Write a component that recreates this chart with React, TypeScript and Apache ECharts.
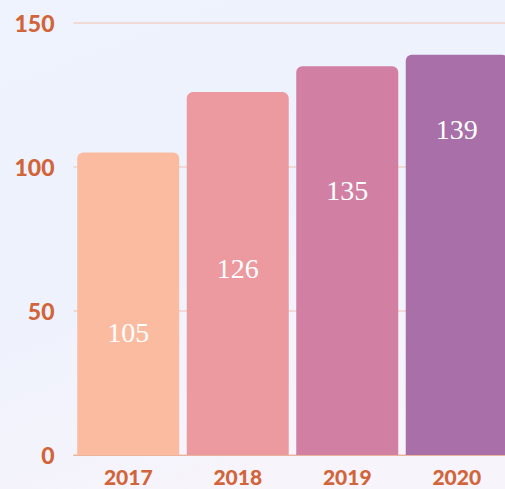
import React, { useEffect, useRef } from "react";
import * as echarts from "echarts";

const categories = ["2017", "2018", "2019", "2020"];
const values = [105, 126, 135, 139];
const barColors = ["#FBBBA0", "#EC9A9F", "#D17FA3", "#A86FA8"];
const labelDrops = [180, 176, 124, 75];
const yTicks = { min: 0, max: 150, interval: 50 };

export default function App() {
  const ref = useRef<HTMLDivElement>(null);
  useEffect(() => {
    if (!ref.current) return;
    const chart = echarts.init(ref.current, null, { renderer: "svg" });
    chart.setOption({
      animation: false,
      backgroundColor: new echarts.graphic.LinearGradient(0, 0, 0.4, 1, [
        { offset: 0, color: "#EEF3FD" },
        { offset: 0.5, color: "#EDF2FD" },
        { offset: 1, color: "#F7F4FB" },
      ]),
      grid: { left: 73.5, top: 23, width: 438, bottom: 34, containLabel: false },
      xAxis: {
        type: "category",
        data: categories,
        axisTick: { show: false },
        axisLine: { show: true, lineStyle: { color: "#EBB39C", width: 1 } },
        axisLabel: {
          color: "#D2643A",
          fontFamily: "Lato",
          fontWeight: 900,
          fontSize: 21,
          margin: 11,
        },
      },
      yAxis: {
        type: "value",
        min: yTicks.min,
        max: yTicks.max,
        interval: yTicks.interval,
        axisLine: { show: false },
        axisTick: { show: false },
        splitLine: { show: true, lineStyle: { color: "#F0D0CA", width: 1.5 } },
        axisLabel: {
          color: "#D2643A",
          fontFamily: "Lato",
          fontWeight: 900,
          fontSize: 23,
          margin: 19,
        },
      },
      series: [
        {
          type: "bar",
          barWidth: 102,
          data: values.map((v, i) => ({
            value: v,
            itemStyle: { color: barColors[i], borderRadius: [6, 6, 0, 0] },
            label: { position: ["50%", labelDrops[i]] },
          })),
          label: {
            show: true,
            color: "#FFFFFF",
            fontFamily: "Liberation Serif",
            fontSize: 28,
            align: "center",
            verticalAlign: "middle",
          },
        },
      ],
    });
    return () => chart.dispose();
  }, []);
  return (
    <div
      style={{
        position: "fixed",
        left: 0,
        top: 0,
        width: 505,
        height: 489,
        overflow: "hidden",
      }}
    >
      <div ref={ref} style={{ width: 514, height: 489 }} />
    </div>
  );
}
